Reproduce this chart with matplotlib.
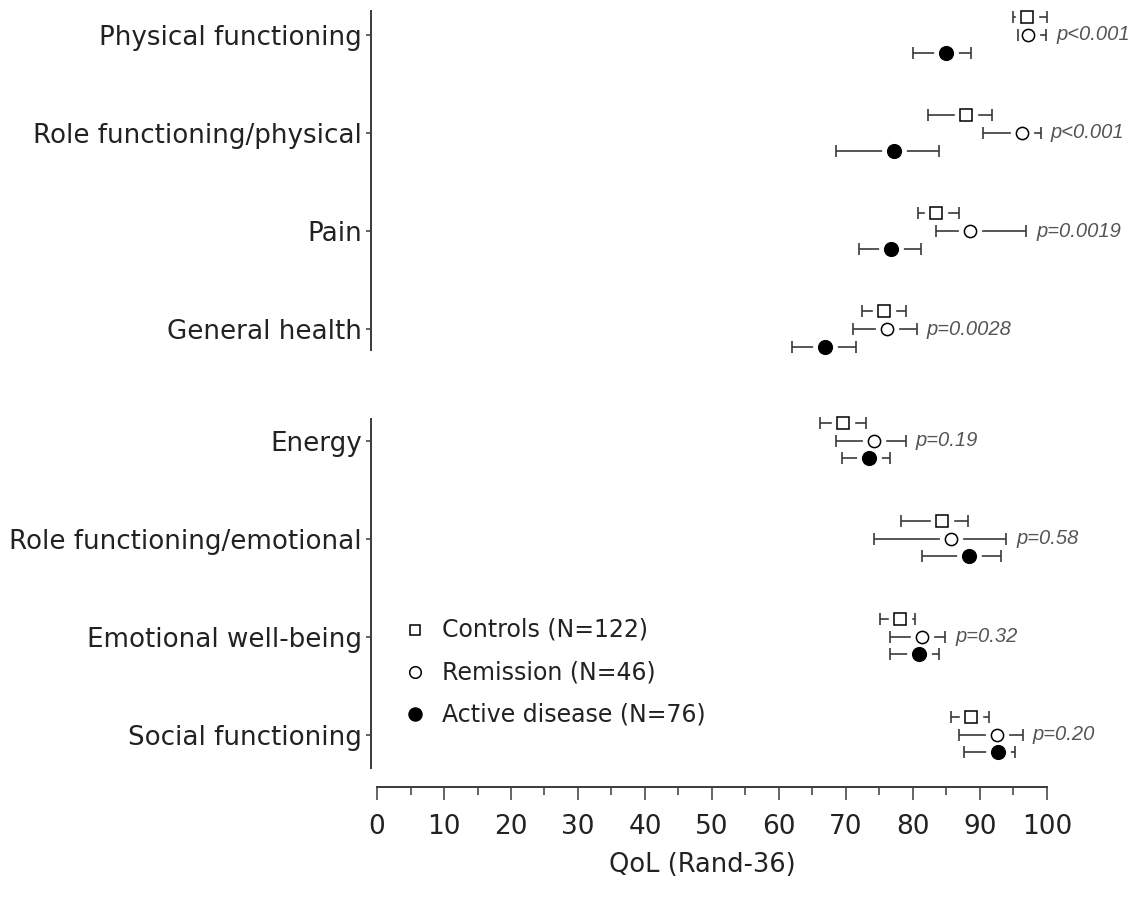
import numpy as np
import matplotlib
matplotlib.use("Agg")
import matplotlib.pyplot as plt

# Rand-36 domains, top to bottom
categories = ["Physical functioning", "Role functioning/physical", "Pain",
              "General health", "Energy", "Role functioning/emotional",
              "Emotional well-being", "Social functioning"]

# mean and 95% CI per group
controls_mean = [97.0, 87.9, 83.5, 75.7, 69.5, 84.3, 78.1, 88.7]
controls_lo = [94.9, 82.2, 80.8, 72.4, 66.1, 78.2, 75.1, 85.7]
controls_hi = [100.0, 91.8, 86.9, 79.0, 73.0, 88.2, 80.3, 91.4]

remission_mean = [97.2, 96.3, 88.5, 76.2, 74.2, 85.7, 81.4, 92.6]
remission_lo = [95.7, 90.4, 83.4, 71.0, 68.5, 74.2, 76.6, 86.9]
remission_hi = [99.9, 99.1, 96.9, 80.6, 78.9, 93.9, 84.8, 96.4]

active_mean = [84.9, 77.2, 76.7, 66.9, 73.4, 88.4, 80.9, 92.7]
active_lo = [80.0, 68.5, 71.9, 61.9, 69.4, 81.4, 76.6, 87.6]
active_hi = [88.7, 83.9, 81.2, 71.5, 76.6, 93.2, 83.9, 95.2]

p_values = ["p<0.001", "p<0.001", "p=0.0019", "p=0.0028",
            "p=0.19", "p=0.58", "p=0.32", "p=0.20"]

group_labels = ["Controls (N=122)", "Remission (N=46)", "Active disease (N=76)"]

# row positions: physical block, small gap, mental block
pos = np.array([i + (0.14 if i >= 4 else 0.0) for i in range(len(categories))])

line_col = "#3a3a3a"
text_col = "#222222"

fig = plt.figure(figsize=(11.43, 8.98), dpi=100)
ax = fig.add_axes([371 / 1143, 1 - 787 / 898, 769 / 1143, 787 / 898])
ax.set_xlim(-0.9, 113.9)
ax.set_ylim(7.673, -0.357)

styles = [
    # (mean, lo, hi, y offset, marker, size, face)
    (controls_mean, controls_lo, controls_hi, -0.18, "s", 8.2, "white"),
    (remission_mean, remission_lo, remission_hi, 0.0, "o", 8.8, "white"),
    (active_mean, active_lo, active_hi, 0.18, "o", 9.8, "black"),
]

for mean, lo, hi, off, mk, ms, face in styles:
    m = np.array(mean)
    y = pos + off
    _, caps, _ = ax.errorbar(m, y, xerr=[m - np.array(lo), np.array(hi) - m],
                             fmt="none", ecolor=line_col, elinewidth=1.2,
                             capsize=4.3, capthick=1.2, zorder=2)
    for c in caps:
        c.set_zorder(5)  # keep caps visible over the halo
    # white halo leaves a gap between marker and whiskers
    ax.plot(m, y, linestyle="none", marker=mk, markersize=ms + 7,
            markerfacecolor="white", markeredgecolor="white", zorder=3)
    ax.plot(m, y, linestyle="none", marker=mk, markersize=ms,
            markerfacecolor=face, markeredgecolor="black",
            markeredgewidth=1.1, zorder=4)

# p-values sit just right of the remission whisker
for i, p in enumerate(p_values):
    ax.text(remission_hi[i] + 1.5, pos[i], p, fontsize=14.5, style="italic",
            family="Liberation Sans", color="#555555", va="center", ha="left")

# legend drawn by hand
leg_y = [6.07, 6.50, 6.93]
for (mean, lo, hi, off, mk, ms, face), ly, lab in zip(styles, leg_y, group_labels):
    ax.plot([5.7], [ly], linestyle="none", marker=mk, markersize=ms * 0.95,
            markerfacecolor=face, markeredgecolor="black",
            markeredgewidth=1.1, clip_on=False)
    ax.text(9.7, ly, lab, fontsize=17, color=text_col, va="center", ha="left")

# split left axis, one segment per block
for y0, y1 in [(pos[0] - 0.25, pos[3] + 0.22), (pos[4] - 0.23, pos[7] + 0.35)]:
    ax.plot([-0.9, -0.9], [y0, y1], color=line_col, linewidth=1.4,
            clip_on=False, solid_capstyle="butt")

for side in ["top", "right", "left"]:
    ax.spines[side].set_visible(False)
ax.spines["bottom"].set_bounds(0, 100)
ax.spines["bottom"].set_color(line_col)
ax.spines["bottom"].set_linewidth(1.4)

ax.set_yticks(pos)
ax.set_yticklabels(categories, fontsize=18.8, color=text_col)
ax.tick_params(axis="y", length=3.6, width=1.1, color=line_col, pad=3)

ax.set_xticks(np.arange(0, 101, 10))
ax.set_xticks(np.arange(5, 100, 10), minor=True)
ax.tick_params(axis="x", which="major", length=9.4, width=1.1,
               color=line_col, labelsize=19, labelcolor=text_col, pad=10)
ax.tick_params(axis="x", which="minor", length=5.8, width=1.1, color=line_col)

ax.set_xlabel("QoL (Rand-36)", fontsize=18.5, color=text_col)
ax.xaxis.set_label_coords(49.5 / 114.8, -0.083)
ax.xaxis.label.set_va("top")

fig.savefig("out.png", dpi=100)
